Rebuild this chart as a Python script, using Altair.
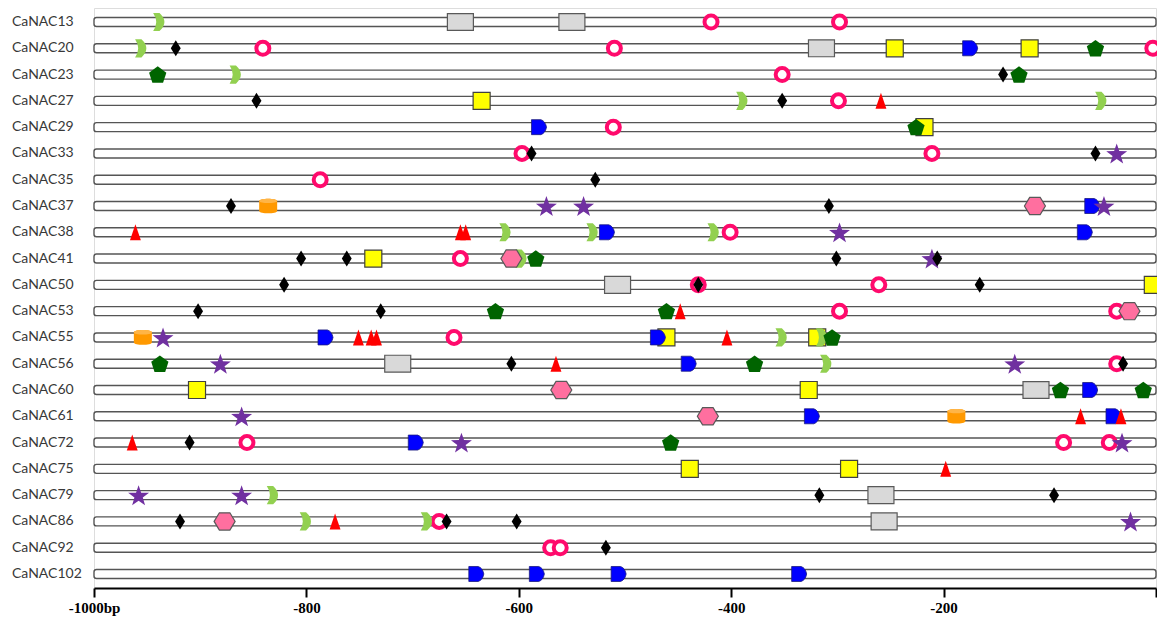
import math
import altair as alt
import pandas as pd

GENES = ["CaNAC13", "CaNAC20", "CaNAC23", "CaNAC27", "CaNAC29", "CaNAC33", "CaNAC35",
         "CaNAC37", "CaNAC38", "CaNAC41", "CaNAC50", "CaNAC53", "CaNAC55", "CaNAC56",
         "CaNAC60", "CaNAC61", "CaNAC72", "CaNAC75", "CaNAC79", "CaNAC86", "CaNAC92",
         "CaNAC102"]

PROMOTER_START = -1000
PROMOTER_END = 0

TICK_VALUES = [-1000, -800, -600, -400, -200, 0]

# motif positions (bp upstream), one list per motif symbol
CHEVRON = [("CaNAC13", -939), ("CaNAC20", -956), ("CaNAC23", -867), ("CaNAC27", -390),
           ("CaNAC27", -52), ("CaNAC38", -613), ("CaNAC38", -531), ("CaNAC38", -417),
           ("CaNAC41", -598), ("CaNAC55", -353), ("CaNAC55", -315), ("CaNAC56", -311),
           ("CaNAC79", -832), ("CaNAC86", -801), ("CaNAC86", -687)]

DIAMOND = [("CaNAC20", -923), ("CaNAC23", -144), ("CaNAC27", -847), ("CaNAC27", -352),
           ("CaNAC33", -588), ("CaNAC33", -57), ("CaNAC35", -528), ("CaNAC37", -871),
           ("CaNAC37", -308), ("CaNAC41", -805), ("CaNAC41", -762), ("CaNAC41", -301),
           ("CaNAC41", -206), ("CaNAC50", -821), ("CaNAC50", -431), ("CaNAC50", -166),
           ("CaNAC53", -902), ("CaNAC53", -730), ("CaNAC56", -607), ("CaNAC56", -31),
           ("CaNAC72", -910), ("CaNAC79", -317), ("CaNAC79", -96), ("CaNAC86", -919),
           ("CaNAC86", -668), ("CaNAC86", -602), ("CaNAC92", -518)]

RING = [("CaNAC13", -419), ("CaNAC13", -298), ("CaNAC20", -841), ("CaNAC20", -510),
        ("CaNAC20", -3), ("CaNAC23", -352), ("CaNAC27", -299), ("CaNAC29", -511),
        ("CaNAC33", -597), ("CaNAC33", -211), ("CaNAC35", -787), ("CaNAC38", -401),
        ("CaNAC41", -655), ("CaNAC50", -431), ("CaNAC50", -261), ("CaNAC53", -298),
        ("CaNAC53", -37), ("CaNAC55", -661), ("CaNAC56", -37), ("CaNAC72", -856),
        ("CaNAC72", -87), ("CaNAC72", -44), ("CaNAC86", -675), ("CaNAC92", -570),
        ("CaNAC92", -561)]

GRAY_BOX = [("CaNAC13", -655), ("CaNAC13", -550), ("CaNAC20", -315), ("CaNAC50", -507),
            ("CaNAC56", -714), ("CaNAC60", -113), ("CaNAC79", -259), ("CaNAC86", -256)]

YELLOW_SQUARE = [("CaNAC20", -246), ("CaNAC20", -119), ("CaNAC27", -635), ("CaNAC29", -218),
                 ("CaNAC41", -737), ("CaNAC50", -3), ("CaNAC55", -461), ("CaNAC55", -319),
                 ("CaNAC60", -903), ("CaNAC60", -327), ("CaNAC75", -439), ("CaNAC75", -289)]

BLUE_ARROW = [("CaNAC20", -175), ("CaNAC29", -581), ("CaNAC37", -60), ("CaNAC38", -517),
              ("CaNAC38", -67), ("CaNAC55", -782), ("CaNAC55", -469), ("CaNAC56", -440),
              ("CaNAC60", -62), ("CaNAC61", -324), ("CaNAC61", -40), ("CaNAC72", -697),
              ("CaNAC102", -640), ("CaNAC102", -583), ("CaNAC102", -506), ("CaNAC102", -336)]

PENTAGON = [("CaNAC20", -57), ("CaNAC23", -940), ("CaNAC23", -129), ("CaNAC29", -226),
            ("CaNAC41", -584), ("CaNAC53", -622), ("CaNAC53", -461), ("CaNAC55", -305),
            ("CaNAC56", -938), ("CaNAC56", -378), ("CaNAC60", -90), ("CaNAC60", -12),
            ("CaNAC72", -457)]

TRIANGLE = [("CaNAC27", -259), ("CaNAC38", -961), ("CaNAC38", -655), ("CaNAC38", -650),
            ("CaNAC53", -448), ("CaNAC55", -751), ("CaNAC55", -739), ("CaNAC55", -734),
            ("CaNAC55", -404), ("CaNAC56", -565), ("CaNAC61", -71), ("CaNAC61", -33),
            ("CaNAC72", -964), ("CaNAC75", -198), ("CaNAC86", -773)]

STAR = [("CaNAC33", -37), ("CaNAC37", -574), ("CaNAC37", -539), ("CaNAC37", -49),
        ("CaNAC38", -298), ("CaNAC41", -211), ("CaNAC55", -935), ("CaNAC56", -881),
        ("CaNAC56", -133), ("CaNAC61", -861), ("CaNAC72", -654), ("CaNAC72", -32),
        ("CaNAC79", -958), ("CaNAC79", -861), ("CaNAC86", -24)]

HEXAGON = [("CaNAC37", -114), ("CaNAC41", -607), ("CaNAC53", -25), ("CaNAC60", -560),
           ("CaNAC61", -422), ("CaNAC86", -877)]

CYLINDER = [("CaNAC37", -836), ("CaNAC55", -954), ("CaNAC61", -188)]

# ---------------------------------------------------------------- shapes
def star_path(n=5, r_out=1.0, r_in=0.4):
    pts = []
    for i in range(2 * n):
        r = r_out if i % 2 == 0 else r_in
        a = -math.pi / 2 + i * math.pi / n
        pts.append(f"{r * math.cos(a):.3f},{r * math.sin(a) + 0.1:.3f}")
    return "M" + "L".join(pts) + "Z"


def pentagon_path():
    pts = []
    for i in range(5):
        a = -math.pi / 2 + i * 2 * math.pi / 5
        pts.append(f"{math.cos(a):.3f},{math.sin(a) + 0.095:.3f}")
    return "M" + "L".join(pts) + "Z"


SHAPE_CHEVRON = "M-0.62,-1L0.08,-1Q0.62,-0.5 0.62,0Q0.62,0.5 0.08,1L-0.62,1Q-0.28,0.5 -0.28,0Q-0.28,-0.5 -0.62,-1Z"
SHAPE_DIAMOND = "M0,-1L0.62,0L0,1L-0.62,0Z"
SHAPE_GRAYBOX = "M-1,-0.65L1,-0.65L1,0.65L-1,0.65Z"
SHAPE_ARROW = "M-1,-1L0.25,-1Q0.85,-0.8 1,0Q0.85,0.8 0.25,1L-1,1Z"
SHAPE_TRIANGLE = "M0,-1L0.68,1L-0.68,1Z"
SHAPE_HEXAGON = "M-1,0L-0.5,-0.82L0.5,-0.82L1,0L0.5,0.82L-0.5,0.82Z"
SHAPE_CYL_BODY = "M-1,-0.55C-1,-0.9 1,-0.9 1,-0.55L1,0.55C1,0.9 -1,0.9 -1,0.55Z"
SHAPE_CYL_TOP = "M-1,-0.55C-1,-0.9 1,-0.9 1,-0.55C1,-0.25 -1,-0.25 -1,-0.55Z"

# ---------------------------------------------------------------- data
row_of = {g: i for i, g in enumerate(GENES)}

bars = pd.DataFrame({"gene": GENES,
                     "row": [row_of[g] for g in GENES],
                     "start": [PROMOTER_START] * len(GENES),
                     "end": [PROMOTER_END] * len(GENES)})


def frame(items):
    return pd.DataFrame({"gene": [g for g, _ in items],
                         "row": [row_of[g] for g, _ in items],
                         "pos": [p for _, p in items]})


x_scale = alt.Scale(domain=[-1000, 0], nice=False, zero=False, padding=0)
y_scale = alt.Scale(domain=[-0.533, 21.533], reverse=True, nice=False, zero=False, padding=0)

label_expr = ("datum.value == -1000 ? '-1000bp' : (datum.value == 0 ? '' : '-' + (-datum.value))")

bar_layer = alt.Chart(bars).mark_bar(
    orient="horizontal", size=9, cornerRadius=2.5, fill="white",
    stroke="#555555", strokeWidth=1.4
).encode(
    x=alt.X("start:Q", scale=x_scale,
            axis=alt.Axis(values=TICK_VALUES, labelExpr=label_expr, title=None, grid=False,
                          domainColor="black", domainWidth=2, tickColor="black",
                          tickWidth=2, tickSize=9, labelFont="Liberation Serif",
                          labelFontWeight="bold", labelFontSize=15, labelColor="black",
                          labelPadding=3, labelFlush=False, labelOverlap=False)),
    x2="end:Q",
    y=alt.Y("row:Q", scale=y_scale, axis=None),
)

text_layer = alt.Chart(bars).mark_text(
    align="left", baseline="middle", font="Lato", fontSize=14, color="#383838"
).encode(
    x=alt.value(-82),
    y=alt.Y("row:Q", scale=y_scale, axis=None),
    text="gene:N",
)


def symbol_layer(items, shape, size, fill, stroke=None, stroke_width=0.0):
    kw = dict(shape=shape, size=size, filled=True, fill=fill, opacity=1, fillOpacity=1)
    if stroke is not None:
        kw.update(stroke=stroke, strokeWidth=stroke_width, strokeOpacity=1)
    else:
        kw.update(strokeWidth=0)
    return alt.Chart(frame(items)).mark_point(**kw).encode(
        x=alt.X("pos:Q", scale=x_scale),
        y=alt.Y("row:Q", scale=y_scale, axis=None),
    )


layers = [
    bar_layer,
    text_layer,
    symbol_layer(YELLOW_SQUARE, "square", 290, "#FFFF00", "#404040", 1.2),
    symbol_layer(GRAY_BOX, SHAPE_GRAYBOX, 676, "#D9D9D9", "#595959", 1.2),
    symbol_layer(RING, "circle", 169, "white", "#FF0A6C", 4),
    symbol_layer(CHEVRON, SHAPE_CHEVRON, 330, "#92D050"),
    symbol_layer(BLUE_ARROW, SHAPE_ARROW, 225, "#0000FF", "#1A1A80", 0.8),
    symbol_layer(HEXAGON, SHAPE_HEXAGON, 441, "#FF6F9F", "#595959", 1.2),
    symbol_layer(PENTAGON, pentagon_path(), 330, "#006400"),
    symbol_layer(CYLINDER, SHAPE_CYL_BODY, 324, "#FF9900"),
    symbol_layer(CYLINDER, SHAPE_CYL_TOP, 324, "#FFB547"),
    symbol_layer(TRIANGLE, SHAPE_TRIANGLE, 256, "#FF0000"),
    symbol_layer(STAR, star_path(), 484, "#7030A0"),
    symbol_layer(DIAMOND, SHAPE_DIAMOND, 256, "#000000"),
]

chart = alt.layer(*layers).properties(
    width=1062, height=580,
    autosize=alt.AutoSizeParams(type="none"),
    padding={"left": 86, "top": 0, "right": 1, "bottom": 29},
).configure_view(stroke=None).configure(background="white")

chart.save("out.html", embed_options={"renderer": "svg", "actions": False})
